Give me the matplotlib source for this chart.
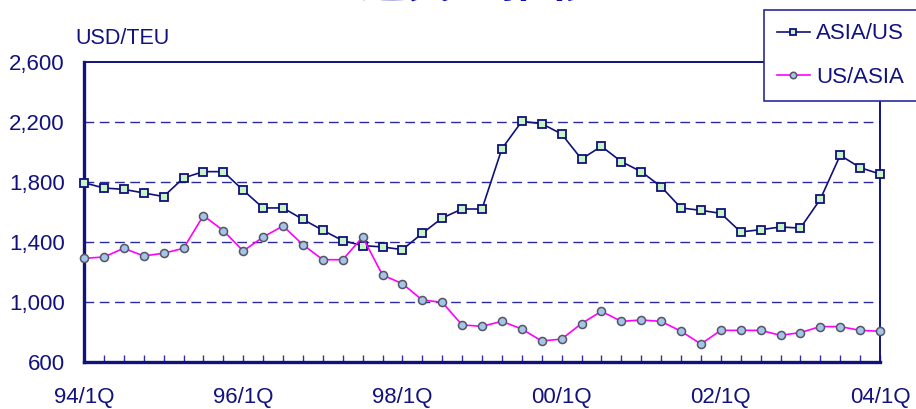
import matplotlib
matplotlib.use("Agg")
import matplotlib.pyplot as plt

plt.rcParams['font.family'] = ['Liberation Sans', 'Noto Sans CJK JP', 'DejaVu Sans']

quarters = list(range(41))
tick_positions = [0, 8, 16, 24, 32, 40]
tick_labels = ["94/1Q", "96/1Q", "98/1Q", "00/1Q", "02/1Q", "04/1Q"]

asia_us = [1795, 1760, 1751, 1727, 1703, 1827, 1869, 1869, 1745, 1627,
           1627, 1551, 1478, 1409, 1376, 1367, 1349, 1458, 1560, 1620,
           1620, 2022, 2204, 2189, 2120, 1953, 2038, 1936, 1869, 1769,
           1627, 1611, 1591, 1467, 1482, 1500, 1493, 1685, 1978, 1896, 1853]
us_asia = [1291, 1300, 1358, 1307, 1325, 1358, 1576, 1476, 1340, 1433,
           1507, 1382, 1282, 1282, 1433, 1180, 1122, 1013, 998, 847,
           838, 871, 820, 740, 753, 856, 938, 871, 880, 871,
           805, 720, 811, 811, 811, 778, 796, 836, 836, 811, 805]

y_ticks = [600, 1000, 1400, 1800, 2200, 2600]
y_tick_labels = ["600", "1,000", "1,400", "1,800", "2,200", "2,600"]
grid_levels = [1000, 1400, 1800, 2200]

navy = '#12127e'
W, H = 916, 409
fig = plt.figure(figsize=(W / 100, H / 100), dpi=100)
ax = fig.add_axes([84 / W, (H - 362) / H, (880 - 84) / W, (362 - 62) / H])

for g in grid_levels:
    ax.axhline(g, color='#2a2a9a', lw=1.0, ls=(0, (7, 4)), zorder=1)

ax.plot(quarters, asia_us, color='#10107a', lw=1.2, marker='s', markersize=5.6,
        markerfacecolor='#c8f5c8', markeredgecolor='#10107a', markeredgewidth=1.3,
        label='ASIA/US', zorder=3, clip_on=False)
ax.plot(quarters, us_asia, color='#ff00ff', lw=1.2, marker='o', markersize=5.8,
        markerfacecolor='#a4c4e8', markeredgecolor='#555566', markeredgewidth=1.1,
        label='US/ASIA', zorder=3, clip_on=False)

ax.set_xlim(0, 40)
ax.set_ylim(600, 2600)
ax.set_yticks(y_ticks)
ax.set_yticklabels(y_tick_labels)
ax.set_xticks(tick_positions)
ax.set_xticklabels(tick_labels)
ax.set_xticks(quarters, minor=True)
ax.tick_params(axis='y', length=0, pad=14, labelsize=16, labelcolor=navy)
ax.tick_params(axis='x', which='both', direction='in', length=5, width=1,
               color='#3030a0', pad=18, labelsize=16, labelcolor=navy)

for s in ['left', 'bottom']:
    ax.spines[s].set_color(navy)
    ax.spines[s].set_linewidth(2.4)
for s in ['top', 'right']:
    ax.spines[s].set_color(navy)
    ax.spines[s].set_linewidth(1.4)

fig.text(75 / W, (H - 39) / H, 'USD/TEU', fontsize=15.5, color=navy,
         ha='left', va='center')

fig.text(478 / W, 1 - 7 / H, '運賃の推移', fontsize=34, fontweight='bold',
         color='#1010a8', ha='center', va='bottom',
         family=['Noto Sans CJK JP', 'DejaVu Sans'])

leg = fig.legend(loc='upper left', bbox_to_anchor=(764 / W, 1 - 10 / H),
                 fontsize=16, frameon=True, fancybox=False, framealpha=1,
                 edgecolor='#2a2a9a', handlelength=1.45, handletextpad=0.3,
                 labelspacing=1.0, borderpad=0.6, borderaxespad=0,
                 markerscale=0.8)
leg.get_frame().set_linewidth(1.2)
for t in leg.get_texts():
    t.set_color(navy)

fig.savefig('out.png', dpi=100)
